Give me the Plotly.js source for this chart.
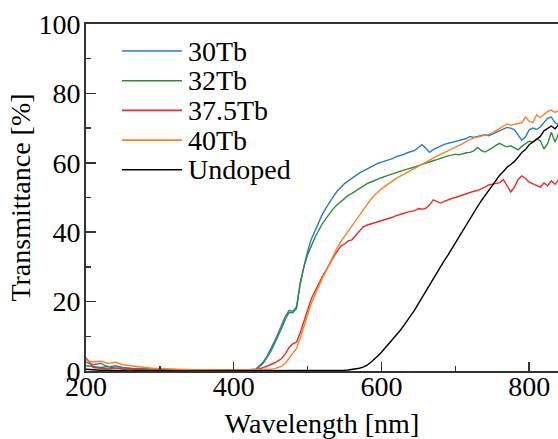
<!DOCTYPE html>
<html>
<head>
<meta charset="utf-8">
<script src="https://cdn.plot.ly/plotly-3.0.1.min.js"></script>
<style>html,body{margin:0;padding:0;background:#fff;}#chart{width:558px;height:439px;}</style>
</head>
<body>
<div id="chart"></div>
<script>
// Wavelength grid (nm)
const wavelength = [200,210,220,230,240,250,260,270,280,290,300,310,320,330,340,350,360,370,380,390,400,410,420,430,
440,445,450,455,460,465,470,475,480,485,490,495,500,505,510,515,520,525,530,535,
540,545,550,555,560,565,570,575,580,585,590,595,600,605,610,615,620,625,630,635,
640,645,650,655,660,665,670,675,680,685,690,695,700,705,710,715,720,725,730,735,
740,745,750,755,760,765,770,775,780,785,790,795,800,805,810,815,820,825,830,835,840];

const seriesNames = ["30Tb","32Tb","37.5Tb","40Tb","Undoped"];

const t30Tb = [2.5,1.8,2.2,1.2,1.5,1.0,0.8,0.6,0.7,0.4,0.5,0.3,0.4,0.2,0.3,0.3,0.2,0.3,0.2,0.3,0.2,0.3,0.4,0.6,
2.6,4.2,6.2,8.5,10.8,13.2,15.8,17.5,17.2,18.5,25.0,30.0,34.5,38.0,40.5,43.0,45.2,47.0,48.8,50.3,
51.8,53.0,54.0,54.8,55.6,56.3,57.0,57.6,58.2,58.8,59.2,59.8,60.2,60.5,61.0,61.2,61.8,62.0,62.4,62.9,
63.2,63.6,64.4,65.2,64.2,63.0,63.8,64.4,64.8,65.3,65.6,65.9,66.1,66.5,66.7,67.0,67.6,67.3,67.6,67.9,
68.1,67.8,68.3,68.8,69.3,69.8,70.2,70.0,69.5,68.0,66.5,67.5,69.5,70.0,69.6,70.3,71.5,72.8,73.2,71.5,71.0];

const t32Tb = [1.5,1.2,1.0,1.3,0.8,0.9,0.6,0.7,0.5,0.4,0.3,0.4,0.3,0.2,0.3,0.2,0.3,0.2,0.3,0.2,0.2,0.3,0.2,0.3,
2.3,3.8,5.6,7.8,10.0,12.4,15.0,16.9,16.8,18.0,25.5,30.0,33.5,36.2,38.5,40.5,42.5,44.0,45.5,46.8,
47.9,48.9,49.8,50.6,51.2,51.9,52.6,53.3,53.9,54.4,54.9,55.3,55.7,56.1,56.5,56.9,57.3,57.6,57.9,58.2,
58.4,58.8,59.2,59.6,60.0,60.3,60.6,60.9,61.3,61.7,62.0,62.2,62.5,62.3,62.7,62.9,63.0,63.4,64.4,63.6,
63.1,63.6,64.3,65.0,65.6,65.0,64.6,64.9,64.2,63.7,64.8,65.6,66.2,66.0,66.8,66.4,64.0,65.5,68.8,66.0,68.5];

const t375Tb = [3.8,1.0,0.8,0.6,0.9,0.5,0.4,0.5,0.3,0.2,0.3,0.2,0.1,0.2,0.1,0.2,0.1,0.2,0.1,0.2,0.1,0.2,0.1,0.2,
1.0,1.4,1.8,2.3,2.9,3.6,5.0,6.8,7.8,8.3,11.0,14.5,18.0,20.8,23.0,25.2,27.2,29.0,31.0,32.8,
34.5,36.0,36.6,37.5,37.8,39.0,40.2,41.5,42.0,42.3,42.8,43.0,43.2,43.6,44.0,44.3,44.8,45.0,45.4,45.8,
46.0,46.2,46.8,46.6,46.9,47.8,49.3,48.8,48.4,48.9,49.4,49.7,50.0,50.4,50.8,51.1,51.5,51.8,52.0,52.4,
53.0,53.6,53.8,54.2,54.3,55.2,53.4,51.6,53.0,55.2,56.2,55.5,54.4,54.0,53.6,53.0,54.2,53.4,54.8,53.8,55.2];

const t40Tb = [3.0,2.6,2.8,2.2,2.5,1.8,1.5,1.2,1.0,0.8,0.7,0.6,0.5,0.5,0.4,0.3,0.4,0.3,0.3,0.2,0.3,0.2,0.3,0.3,
0.3,0.4,0.5,0.7,0.9,1.3,2.3,3.6,5.0,6.5,9.5,13.0,16.5,19.5,22.0,24.5,26.7,28.8,31.2,33.5,
35.5,37.3,38.8,40.2,41.8,43.5,45.0,46.5,48.0,49.3,50.5,51.6,52.5,53.3,54.1,54.8,55.5,56.1,56.7,57.3,
57.9,58.5,59.0,59.6,60.3,60.8,61.4,61.9,62.4,62.9,63.4,63.9,64.4,64.9,65.5,66.2,66.8,67.2,67.4,67.6,
67.9,68.2,68.6,69.2,69.8,70.4,71.2,70.8,71.0,71.4,71.6,73.2,72.0,71.6,73.8,73.0,74.0,74.8,75.2,74.5,75.0];

const tUndoped = [0.5,0.3,0.2,0.2,0.1,0.1,0.0,0.1,0.0,0.0,0.1,0.0,0.0,0.0,0.0,0.0,0.0,0.0,0.0,0.0,0.0,0.0,0.0,0.0,
0.0,0.0,0.0,0.0,0.0,0.0,0.0,0.0,0.0,0.0,0.0,0.0,0.0,0.0,0.0,0.0,0.0,0.0,0.0,0.1,
0.1,0.1,0.2,0.3,0.4,0.6,0.8,1.1,1.6,2.4,3.3,4.3,5.4,6.6,7.8,9.0,10.3,11.6,13.0,14.5,
16.0,17.6,19.4,21.2,23.0,24.9,26.7,28.4,30.1,31.8,33.4,35.2,37.0,38.8,40.6,42.3,44.0,45.6,47.4,49.0,
50.6,52.0,53.4,55.0,56.4,57.5,58.7,59.5,60.4,61.6,63.0,63.8,65.2,66.0,66.8,67.6,69.2,70.0,70.6,69.8,71.0];

const seriesValues = [t30Tb, t32Tb, t375Tb, t40Tb, tUndoped];
const seriesColors = ["#2b7bc2", "#2f8a3c", "#ee2b2b", "#ff8024", "#000000"];

const FONT = "'Liberation Serif', 'Times New Roman', Times, serif";

const traces = seriesNames.map((n, i) => ({
  x: wavelength, y: seriesValues[i], type: "scatter", mode: "lines",
  name: n, line: {color: seriesColors[i], width: 1.4}, showlegend: false
}));

// custom legend (pixel layout within plot area: left 86, top 24, width 472, height 347)
const PL = 86, PT = 24, PW = 472, PH = 347;
const shapes = [], annotations = [];
seriesNames.forEach((n, i) => {
  const yPix = 51 + i * 29.7;
  const yp = (PT + PH - yPix) / PH;
  shapes.push({type: "line", xref: "paper", yref: "paper",
    x0: (122 - PL) / PW, x1: (182 - PL) / PW, y0: yp, y1: yp,
    line: {color: seriesColors[i], width: 1.6}});
  annotations.push({xref: "paper", yref: "paper", x: (186 - PL) / PW, y: yp,
    xanchor: "left", yanchor: "middle", showarrow: false, text: n,
    font: {family: FONT, size: 28, color: "#000"}});
});

const layout = {
  width: 558, height: 439,
  margin: {l: PL, r: 0, t: PT, b: 439 - PT - PH, pad: 0},
  paper_bgcolor: "#fff", plot_bgcolor: "#fff",
  font: {family: FONT, size: 28, color: "#000"},
  xaxis: {
    range: [200, 839], showgrid: false, zeroline: false,
    showline: true, linecolor: "#333", linewidth: 2, mirror: true,
    ticks: "inside", ticklen: 9, tickwidth: 1.5, tickcolor: "#333",
    ticklabelstandoff: -11,
    tickvals: [200, 400, 600, 800],
    minor: {tickvals: [300, 500, 700], ticks: "inside", ticklen: 5, tickwidth: 1.5, tickcolor: "#333"},
    tickfont: {family: FONT, size: 28, color: "#000"},
    title: {text: "Wavelength [nm]", font: {family: FONT, size: 28, color: "#000"}, standoff: 15}
  },
  yaxis: {
    range: [0, 100], showgrid: false, zeroline: false,
    showline: true, linecolor: "#333", linewidth: 2,
    ticks: "inside", ticklen: 10, tickwidth: 1.5, tickcolor: "#333",
    ticklabelstandoff: -2,
    tickvals: [0, 20, 40, 60, 80, 100],
    minor: {tickvals: [10, 30, 50, 70, 90], ticks: "inside", ticklen: 5, tickwidth: 1.5, tickcolor: "#333"},
    tickfont: {family: FONT, size: 28, color: "#000"},
    title: {text: "Transmittance [%]", font: {family: FONT, size: 28, color: "#000"}, standoff: 0}
  },
  shapes: shapes,
  annotations: annotations
};

Plotly.newPlot("chart", traces, layout, {displayModeBar: false, staticPlot: true});
</script>
</body>
</html>
